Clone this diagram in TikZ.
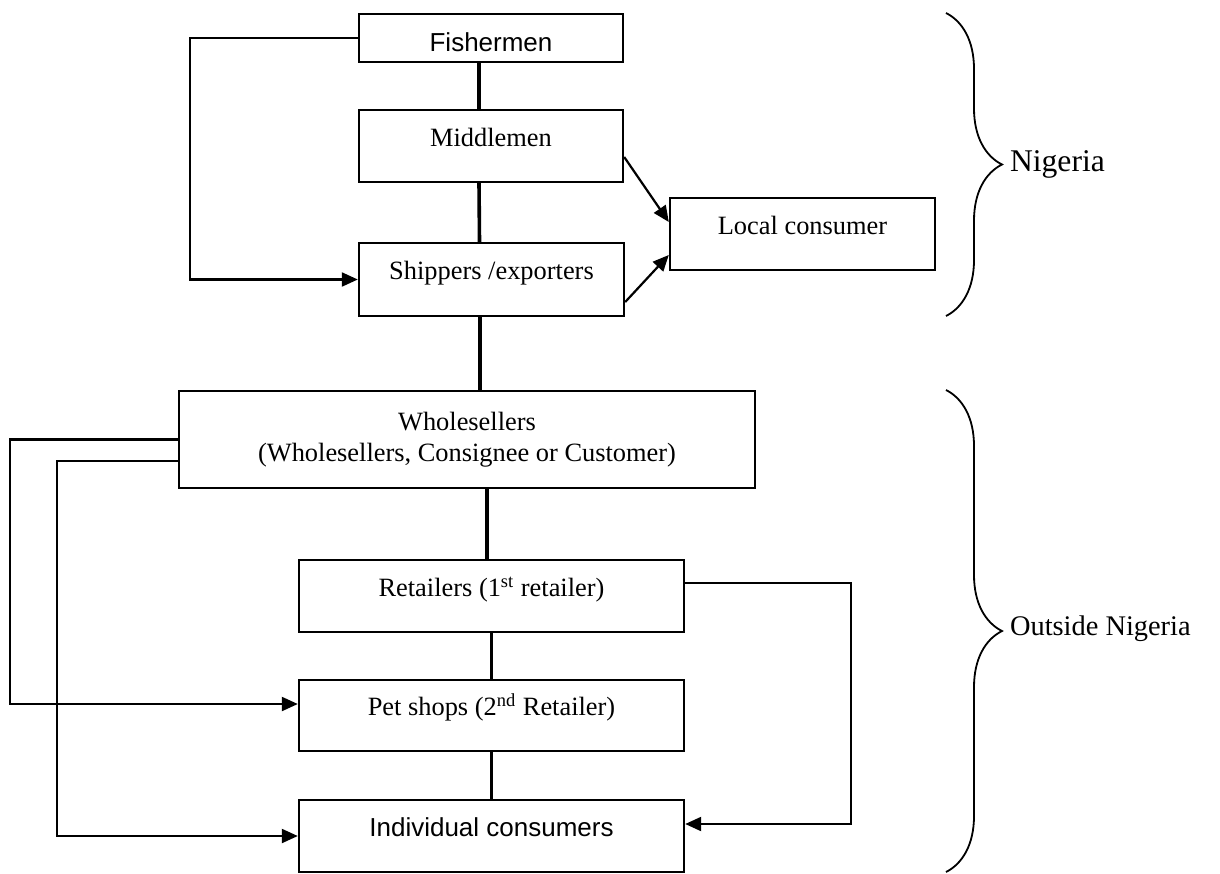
\documentclass[tikz,border=0pt]{standalone}
\usepackage{fontspec}
\setmainfont{Liberation Serif}
\setsansfont{Liberation Sans}
\usetikzlibrary{arrows.meta,decorations.pathreplacing}

\begin{document}
\begin{tikzpicture}[x=0.5pt,y=-0.5pt,
  every node/.style={font=\fontsize{13.2}{16}\selectfont},
  sans/.style={font=\sffamily\fontsize{13}{16}\selectfont},
  box/.style={draw,line width=1.2pt,inner sep=0pt,align=center},
  topbox/.style={box,text height=9pt,text depth=9pt},
  link/.style={line width=1.8pt},
  arr/.style={line width=1.1pt,-{Triangle[length=8pt,width=7pt]}},
  brace/.style={decorate,decoration={brace,amplitude=28pt},line width=0.9pt}]
\useasboundingbox (0,0) rectangle (1220,873);

\node[box,sans,text height=14pt,text depth=0.3pt,minimum width=132pt,minimum height=24pt] (fish) at (491,38) {Fishermen};
\node[topbox,minimum width=132pt,minimum height=36pt] (mid) at (491,146) {Middlemen};
\node[topbox,minimum width=132.5pt,minimum height=36.5pt] (ship) at (491.5,279.5) {Shippers /exporters};
\node[topbox,minimum width=132.5pt,minimum height=36pt] (local) at (802.5,234) {Local consumer};

\node[box,minimum width=288pt,minimum height=48.5pt] (whole) at (467,439.5) {Wholesellers\\[-0.5pt](Wholesellers, Consignee or Customer)};
\node[topbox,minimum width=192.5pt,minimum height=36pt] (ret) at (491.5,596) {Retailers (1\textsuperscript{st} retailer)};
\node[topbox,minimum width=192.5pt,minimum height=35.5pt] (pet) at (491.5,715.5) {Pet shops (2\textsuperscript{nd} Retailer)};
\node[topbox,sans,minimum width=192.5pt,minimum height=36pt] (indiv) at (491.5,836) {Individual consumers};

\coordinate (fx) at (190,38);
\coordinate (wx1) at (10,0);
\coordinate (wx2) at (57,0);
\coordinate (rx) at (851,0);

% chain down the middle
\draw[link] ([xshift=-6pt]fish.south) -- ([xshift=-6pt]mid.north);
\draw[link] ([xshift=-6pt]mid.south) -- ([xshift=-6pt]ship.north);
\draw[link] ([xshift=-5.75pt]ship.south) -- ([xshift=-5.75pt]ship.south |- whole.north);
\draw[link] ([xshift=-2.25pt]ret.north) -- ([xshift=-2.25pt]ret.north |- whole.south);
\draw[link] (ret.south) -- (pet.north);
\draw[link] (pet.south) -- (indiv.north);

% side routes
\draw[arr] (fish.west) -- (fish.west -| fx) |- (ship.west);
\draw[arr] ([yshift=-5.5pt]mid.east) -- ([yshift=6pt]local.west);
\draw[arr] ([yshift=-11.25pt]ship.east) -- ([yshift=-10.5pt]local.west);
\draw[arr] (whole.west) -- (whole.west -| wx1) |- ([yshift=5.75pt]pet.west);
\draw[arr] ([yshift=-10.75pt]whole.west) -- ([yshift=-10.75pt]whole.west -| wx2) |- (indiv.west);
\draw[arr] ([yshift=6.5pt]ret.east) -- ([yshift=6.5pt]ret.east -| rx) |- ([yshift=6pt]indiv.east);

% braces
\draw[brace] (946,13) -- (946,316);
\node[anchor=west,font=\fontsize{15.8}{18}\selectfont] (nig) at (1003,164) {Nigeria};
\draw[brace] (946,390) -- (946,872);
\node[anchor=west,font=\fontsize{14.2}{17}\selectfont] (out) at (1003,629) {Outside Nigeria};
\end{tikzpicture}
\end{document}
